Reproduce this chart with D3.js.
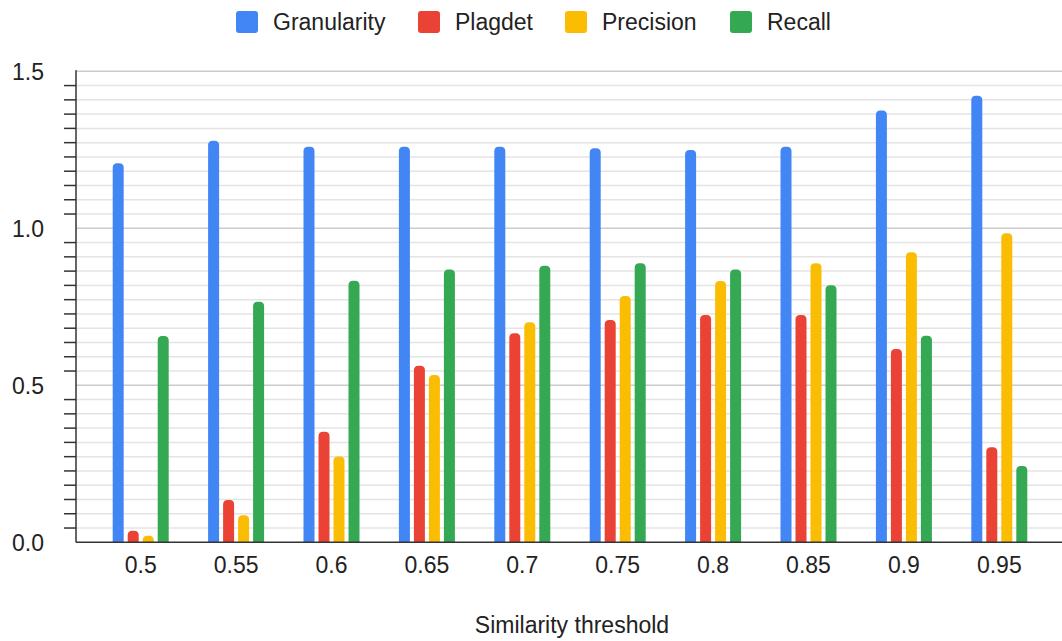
<!DOCTYPE html>
<html>
<head>
<meta charset="utf-8">
<script src="https://cdn.jsdelivr.net/npm/d3@7"></script>
<style>
  html, body { margin: 0; padding: 0; background: #fff; }
  svg { display: block; font-family: "Liberation Sans", Arial, sans-serif; }
</style>
</head>
<body>
<svg id="chart" width="1062" height="641"></svg>
<script>
// ---- data ----
const categories = ["0.5", "0.55", "0.6", "0.65", "0.7", "0.75", "0.8", "0.85", "0.9", "0.95"];
const seriesNames = ["Granularity", "Plagdet", "Precision", "Recall"];
const granularity = [1.207, 1.279, 1.260, 1.260, 1.260, 1.255, 1.249, 1.260, 1.375, 1.422];
const plagdet     = [0.037, 0.135, 0.352, 0.562, 0.666, 0.708, 0.724, 0.724, 0.616, 0.303];
const precision   = [0.021, 0.086, 0.273, 0.533, 0.701, 0.784, 0.832, 0.889, 0.924, 0.984];
const recall      = [0.657, 0.766, 0.833, 0.869, 0.881, 0.889, 0.869, 0.819, 0.658, 0.243];
const yMajorTicks = [0.0, 0.5, 1.0, 1.5];
const xTitle = "Similarity threshold";

const seriesValues = [granularity, plagdet, precision, recall];
const colors = ["#4285F4", "#EA4335", "#FBBC04", "#34A853"];

// ---- layout ----
const svg = d3.select("#chart");
const plotLeft = 76, plotRight = 1062, plotTop = 71.3, plotBottom = 542.3;
const textColor = "#222";
const fontSize = 23;

const y = d3.scaleLinear().domain([0, 1.5]).range([plotBottom, plotTop]);
const x = d3.scaleBand().domain(categories).range([93, 1047]).padding(0);
const xs = d3.scaleBand().domain(seriesNames).range([-30, 30]).paddingInner(4 / 15).paddingOuter(2 / 15);

// minor grid values: 10 minor lines between majors
const minorVals = [];
for (let i = 0; i < yMajorTicks.length - 1; i++) {
  const a = yMajorTicks[i], b = yMajorTicks[i + 1];
  for (let k = 1; k <= 10; k++) minorVals.push(a + (b - a) * k / 11);
}

// minor gridlines
svg.append("g").selectAll("line").data(minorVals).join("line")
  .attr("x1", plotLeft).attr("x2", plotRight)
  .attr("y1", d => y(d)).attr("y2", d => y(d))
  .attr("stroke", "#e4e4e4").attr("stroke-width", 1.5);

// major gridlines
svg.append("g").selectAll("line").data(yMajorTicks.filter(d => d > 0)).join("line")
  .attr("x1", plotLeft).attr("x2", plotRight)
  .attr("y1", d => y(d)).attr("y2", d => y(d))
  .attr("stroke", "#cccccc").attr("stroke-width", 1.5);

// minor tick marks on the left
svg.append("g").selectAll("line").data(minorVals).join("line")
  .attr("x1", plotLeft - 12).attr("x2", plotLeft)
  .attr("y1", d => y(d)).attr("y2", d => y(d))
  .attr("stroke", "#333").attr("stroke-width", 1.5);

// y tick labels
svg.append("g").selectAll("text").data(yMajorTicks).join("text")
  .attr("x", 44).attr("y", d => y(d))
  .attr("dy", "0.36em")
  .attr("text-anchor", "end")
  .attr("font-size", fontSize).attr("fill", textColor)
  .text(d => d.toFixed(1));

// bars
function barPath(x0, w, yTop, yBase, r) {
  r = Math.min(r, w / 2, (yBase - yTop));
  return `M${x0},${yBase}V${yTop + r}Q${x0},${yTop} ${x0 + r},${yTop}H${x0 + w - r}Q${x0 + w},${yTop} ${x0 + w},${yTop + r}V${yBase}Z`;
}
const barData = [];
categories.forEach((c, ci) => {
  seriesNames.forEach((s, si) => {
    barData.push({ c, s, v: seriesValues[si][ci], color: colors[si] });
  });
});
svg.append("g").selectAll("path").data(barData).join("path")
  .attr("d", d => {
    const cx = x(d.c) + x.bandwidth() / 2;
    return barPath(cx + xs(d.s), xs.bandwidth(), y(d.v), y(0), 4.5);
  })
  .attr("fill", d => d.color);

// axis lines
svg.append("line").attr("x1", plotLeft).attr("x2", plotLeft)
  .attr("y1", plotTop - 1).attr("y2", plotBottom)
  .attr("stroke", "#333").attr("stroke-width", 1.5);
svg.append("line").attr("x1", plotLeft).attr("x2", plotRight)
  .attr("y1", plotBottom).attr("y2", plotBottom)
  .attr("stroke", "#333").attr("stroke-width", 1.5);

// x tick labels
svg.append("g").selectAll("text").data(categories).join("text")
  .attr("x", d => x(d) + x.bandwidth() / 2).attr("y", 573)
  .attr("text-anchor", "middle")
  .attr("font-size", fontSize).attr("fill", textColor)
  .text(d => d);

// x axis title
svg.append("text").attr("x", 572).attr("y", 633)
  .attr("text-anchor", "middle")
  .attr("font-size", fontSize).attr("fill", textColor)
  .text(xTitle);

// legend
const legendX = [236, 418, 565, 730];
const lg = svg.append("g").selectAll("g").data(seriesNames).join("g")
  .attr("transform", (d, i) => `translate(${legendX[i]},11)`);
lg.append("rect").attr("width", 22).attr("height", 22).attr("rx", 3)
  .attr("fill", (d, i) => colors[i]);
lg.append("text").attr("x", 37).attr("y", 11).attr("dy", "0.36em")
  .attr("font-size", fontSize).attr("fill", textColor)
  .text(d => d);
</script>
</body>
</html>
